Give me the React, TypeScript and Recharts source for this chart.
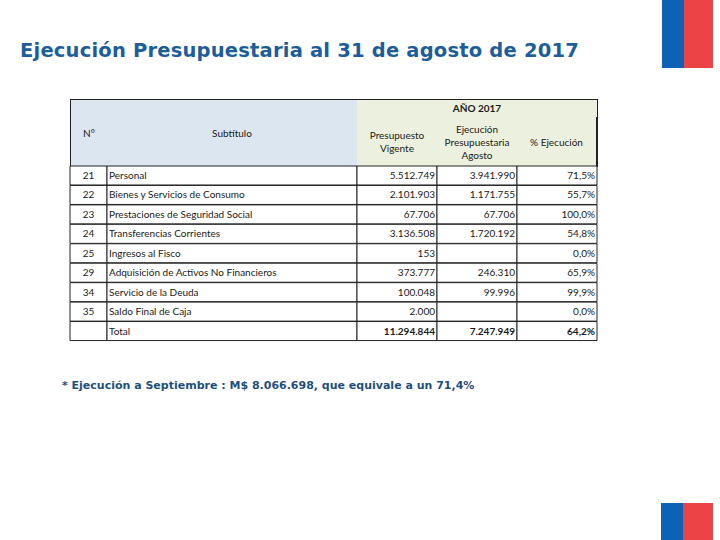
import React from 'react';
import { BarChart, Bar, XAxis, YAxis, LabelList } from 'recharts';

// budget execution table, Aug 31 2017 (M$)
const rowNumbers = ['21', '22', '23', '24', '25', '29', '34', '35', ''];
const subtitles = [
  'Personal',
  'Bienes y Servicios de Consumo',
  'Prestaciones de Seguridad Social',
  'Transferencias Corrientes',
  'Ingresos al Fisco',
  'Adquisición de Activos No Financieros',
  'Servicio de la Deuda',
  'Saldo Final de Caja',
  'Total',
];
const presupuestoVigente = [5512749, 2101903, 67706, 3136508, 153, 373777, 100048, 2000, 11294844];
const ejecucionAgosto = [3941990, 1171755, 67706, 1720192, null, 246310, 99996, null, 7247949];
const pctEjecucion = [71.5, 55.7, 100.0, 54.8, 0.0, 65.9, 99.9, 0.0, 64.2];

const colWidths = [37, 250, 80, 80, 80];
const TABLE_FONT = 'Lato, "Liberation Sans", sans-serif';

const fmtThousands = (v: number | null) =>
  v == null ? '' : String(v).replace(/\B(?=(\d{3})+(?!\d))/g, '.');
const fmtPct = (v: number) => v.toFixed(1).replace('.', ',') + '%';

const tableRows = subtitles.map((s, i) => ({
  key: 'r' + i,
  c0: colWidths[0],
  c1: colWidths[1],
  c2: colWidths[2],
  c3: colWidths[3],
  c4: colWidths[4],
  t0: rowNumbers[i],
  t1: s,
  t2: fmtThousands(presupuestoVigente[i]),
  t3: fmtThousands(ejecucionAgosto[i]),
  t4: fmtPct(pctEjecucion[i]),
}));

const totalIndex = subtitles.length - 1;

const cellLabel = (col: number) => (props: any) => {
  const vb = props.viewBox || props;
  const { x, y, width, height } = vb;
  const idx = props.index;
  const bold = idx === totalIndex && col >= 2;
  let tx = x + width - 2;
  let anchor: 'start' | 'middle' | 'end' = 'end';
  if (col === 0) {
    tx = x + width / 2;
    anchor = 'middle';
  } else if (col === 1) {
    tx = x + 2;
    anchor = 'start';
  }
  return (
    <text
      x={tx}
      y={y + height / 2}
      dy="0.35em"
      textAnchor={anchor}
      fontFamily={TABLE_FONT}
      fontSize={10}
      fontWeight={bold ? 700 : 400}
      fill="#1a1a1a"
    >
      {props.value}
    </text>
  );
};

const hdr: React.CSSProperties = {
  position: 'absolute',
  boxSizing: 'border-box',
  display: 'flex',
  alignItems: 'center',
  justifyContent: 'center',
  textAlign: 'center',
  fontFamily: TABLE_FONT,
  fontSize: 10,
  lineHeight: '13px',
  color: '#1a1a1a',
};

const App = () => {
  return (
    <div
      style={{
        position: 'absolute',
        left: 0,
        top: 0,
        width: 720,
        height: 540,
        background: '#fff',
        overflow: 'hidden',
      }}
    >
      {/* flags */}
      <div style={{ position: 'absolute', left: 662, top: 0, width: 22, height: 68, background: '#0d62b5' }} />
      <div style={{ position: 'absolute', left: 684, top: 0, width: 29, height: 68, background: '#ec4346' }} />
      <div style={{ position: 'absolute', left: 661, top: 503, width: 22, height: 37, background: '#0d62b5' }} />
      <div style={{ position: 'absolute', left: 683, top: 503, width: 30, height: 37, background: '#ec4346' }} />

      <div
        style={{
          position: 'absolute',
          left: 20,
          top: 39,
          fontFamily: '"DejaVu Sans", Verdana, sans-serif',
          fontWeight: 700,
          fontSize: 19.5,
          letterSpacing: 0.2,
          color: '#1c5d9c',
          whiteSpace: 'nowrap',
        }}
      >
        Ejecución Presupuestaria al 31 de agosto de 2017
      </div>

      {/* header */}
      <div style={{ ...hdr, left: 70, top: 99, width: 38, height: 68, background: '#dce6f1', border: '1px solid #222', borderBottom: 'none' }}>
        N°
      </div>
      <div style={{ ...hdr, left: 107, top: 99, width: 251, height: 68, background: '#dce6f1', borderTop: '1px solid #222', borderRight: '1px solid #222' }}>
        Subtítulo
      </div>
      <div style={{ ...hdr, left: 357, top: 99, width: 241, height: 19, background: '#ebf1de', borderTop: '1px solid #222', borderBottom: '1px solid #222', borderRight: '1px solid #222', fontWeight: 700 }}>
        AÑO 2017
      </div>
      <div style={{ ...hdr, left: 357, top: 117, width: 81, height: 50, background: '#ebf1de', borderRight: '1px solid #222' }}>
        Presupuesto
        <br />
        Vigente
      </div>
      <div style={{ ...hdr, left: 437, top: 117, width: 81, height: 50, background: '#ebf1de', borderRight: '1px solid #222' }}>
        Ejecución
        <br />
        Presupuestaria
        <br />
        Agosto
      </div>
      <div style={{ ...hdr, left: 517, top: 117, width: 81, height: 50, background: '#ebf1de', borderRight: '2px solid #222' }}>
        % Ejecución
      </div>

      <div style={{ position: 'absolute', left: 0, top: 0 }}>
        <BarChart
          width={720}
          height={540}
          data={tableRows}
          layout="vertical"
          barCategoryGap={0}
          margin={{ top: 166, right: 123, bottom: 199, left: 70 }}
        >
          <XAxis type="number" domain={[0, 527]} hide />
          <YAxis type="category" dataKey="key" hide />
          {[0, 1, 2, 3, 4].map((c) => (
            <Bar
              key={c}
              dataKey={'c' + c}
              stackId="t"
              fill="#fff"
              stroke="#222"
              strokeWidth={1}
              isAnimationActive={false}
            >
              <LabelList dataKey={'t' + c} content={cellLabel(c)} />
            </Bar>
          ))}
        </BarChart>
      </div>

      <div
        style={{
          position: 'absolute',
          left: 62,
          top: 379,
          fontFamily: '"DejaVu Sans", Verdana, sans-serif',
          fontWeight: 700,
          fontSize: 11,
          color: '#1f4f7e',
          whiteSpace: 'nowrap',
        }}
      >
        * Ejecución a Septiembre : M$ 8.066.698, que equivale a un 71,4%
      </div>
    </div>
  );
};

export default App;
